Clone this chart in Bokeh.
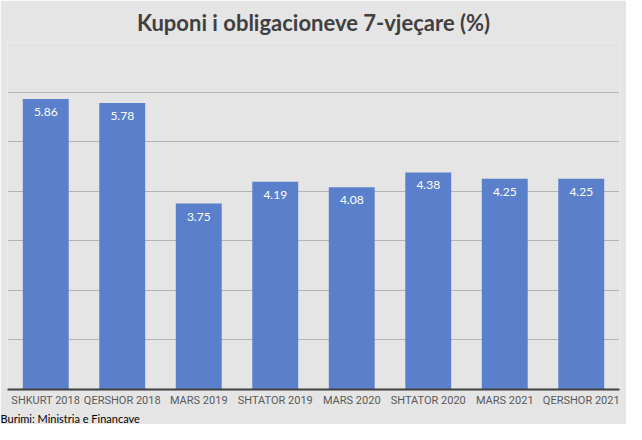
from bokeh.plotting import figure
from bokeh.models import ColumnDataSource, Range1d, FixedTicker, Title
from bokeh.core.properties import value
from bokeh.embed import file_html
from bokeh.resources import INLINE

categories = ["SHKURT 2018", "QERSHOR 2018", "MARS 2019", "SHTATOR 2019",
              "MARS 2020", "SHTATOR 2020", "MARS 2021", "QERSHOR 2021"]
coupons = [5.86, 5.78, 3.75, 4.19, 4.08, 4.38, 4.25, 4.25]
labels = ["%.2f" % v for v in coupons]
grid_ticks = [0, 1, 2, 3, 4, 5, 6, 7]

src = ColumnDataSource(dict(cat=categories, val=coupons, lab=labels))

BG = "#e5e5e5"
p = figure(x_range=categories, y_range=Range1d(0, 7), width=626, height=424,
           output_backend="svg", toolbar_location=None,
           min_border_left=7, min_border_right=7, min_border_top=0, min_border_bottom=0,
           background_fill_color=BG, border_fill_color=BG, outline_line_color=None)
p.x_range.range_padding = 0

p.title.text = "Kuponi i obligacioneve 7-vjeçare (%)"
p.title.align = "center"
p.title.text_font = "Lato"
p.title.text_font_style = "bold"
p.title.text_font_size = "22px"
p.title.text_color = "#404040"
p.title.standoff = 13

p.vbar(x="cat", top="val", width=0.6, source=src, fill_color="#5A7FCB", line_color=None)
p.text(x="cat", y="val", text="lab", source=src, text_color="white",
       text_font=value("Lato"), text_font_size="12px", text_font_style="normal",
       text_align="center", text_baseline="middle", y_offset=13)

p.yaxis.visible = False
p.yaxis.ticker = FixedTicker(ticks=grid_ticks)
p.ygrid.ticker = FixedTicker(ticks=grid_ticks)
p.ygrid.grid_line_color = "#b4b4b4"
p.xgrid.grid_line_color = None

p.xaxis.axis_line_color = "#404040"
p.xaxis.axis_line_width = 2
p.xaxis.major_tick_line_color = None
p.xaxis.minor_tick_line_color = None
p.xaxis.major_tick_out = 0
p.xaxis.major_tick_in = 0
p.xaxis.minor_tick_out = 0
p.xaxis.major_label_standoff = 4
p.xaxis.major_label_text_font = "Roboto"
p.xaxis.major_label_text_font_size = "11px"
p.xaxis.major_label_text_color = "#595959"

p.add_layout(Title(text="Burimi: Ministria e Financave", align="left",
                   text_font="Lato", text_font_size="11px", text_font_style="normal",
                   text_color="#000000", offset=-7, standoff=0), "below")

open("out.html", "w").write(file_html(p, INLINE))
